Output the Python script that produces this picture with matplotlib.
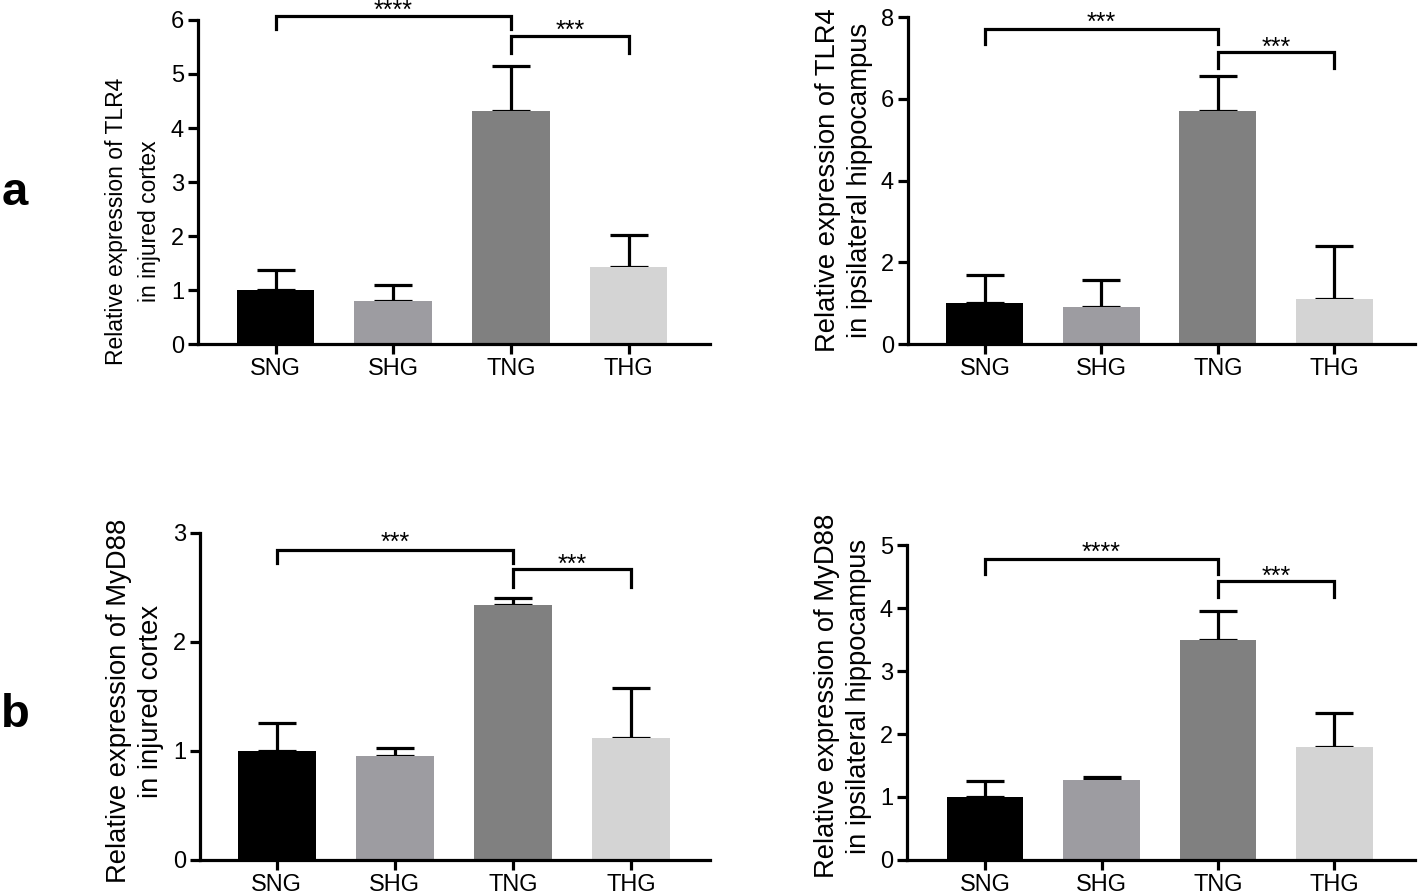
import matplotlib.pyplot as plt
import numpy as np

plt.rcParams['font.family'] = ['Liberation Sans', 'DejaVu Sans']

groups = ['SNG', 'SHG', 'TNG', 'THG']
bar_colors = ['#000000', '#9d9ca1', '#808080', '#d4d4d4']

# means and upper end of the error bar
tlr4_cortex = [1.0, 0.80, 4.32, 1.42]
tlr4_cortex_top = [1.37, 1.10, 5.15, 2.02]
tlr4_hippo = [1.0, 0.90, 5.70, 1.10]
tlr4_hippo_top = [1.68, 1.57, 6.55, 2.40]
myd88_cortex = [1.0, 0.95, 2.34, 1.12]
myd88_cortex_top = [1.26, 1.03, 2.40, 1.58]
myd88_hippo = [1.0, 1.27, 3.50, 1.80]
myd88_hippo_top = [1.25, 1.32, 3.95, 2.34]

# significance brackets: (i, j, bar height, leg bottom, label, label centre)
br_tlr4_cortex = [(0, 2, 6.07, 5.83, '****', 6.16), (2, 3, 5.70, 5.39, '***', 5.79)]
br_tlr4_hippo = [(0, 2, 7.70, 7.34, '***', 7.85), (2, 3, 7.15, 6.75, '***', 7.24)]
br_myd88_cortex = [(0, 2, 2.84, 2.72, '***', 2.905), (2, 3, 2.67, 2.50, '***', 2.705)]
br_myd88_hippo = [(0, 2, 4.78, 4.54, '****', 4.87), (2, 3, 4.43, 4.17, '***', 4.49)]


def draw_panel(ax, means, tops, ymax, ystep, ylabel, brackets, xlim,
               lab_size, lab_spacing, lab_xy):
    x = np.arange(len(groups))
    means = np.array(means)
    up = np.array(tops) - means
    ax.errorbar(x, means, yerr=[np.zeros_like(up), up], fmt='none', ecolor='black',
                elinewidth=2.3, capsize=13.5, capthick=2.3, zorder=1)
    ax.bar(x, means, width=0.66, color=bar_colors, zorder=2)
    ax.set_xlim(*xlim)
    ax.set_ylim(0, ymax)
    ax.set_yticks(np.arange(0, ymax + 0.01, ystep))
    ax.set_xticks(x)
    ax.set_xticklabels(groups)
    for s in ['top', 'right']:
        ax.spines[s].set_visible(False)
    for s in ['left', 'bottom']:
        ax.spines[s].set_linewidth(2.3)
    ax.tick_params(axis='y', length=7, width=2.3, labelsize=17, pad=3)
    ax.tick_params(axis='x', length=7, width=2.3, labelsize=17, pad=3)
    ax.set_ylabel(ylabel, fontsize=lab_size, linespacing=lab_spacing)
    ax.yaxis.set_label_coords(*lab_xy)
    for i, j, h, low, lab, tc in brackets:
        ax.plot([i, i, j, j], [low, h, h, low], color='black', lw=2.3,
                clip_on=False, solid_joinstyle='miter')
        ax.text((i + j) / 2, tc, lab, ha='center', va='center', fontsize=18,
                clip_on=False)


fig = plt.figure(figsize=(14.18, 8.96), dpi=100)

ax1 = fig.add_axes([0.1396, 0.616, 0.361, 0.3617])
draw_panel(ax1, tlr4_cortex, tlr4_cortex_top, 6, 1,
           'Relative expression of TLR4\nin injured cortex', br_tlr4_cortex, (-0.66, 3.69),
           16.5, 1.55, (-0.072, 0.38))

ax2 = fig.add_axes([0.6403, 0.616, 0.3575, 0.365])
draw_panel(ax2, tlr4_hippo, tlr4_hippo_top, 8, 2,
           'Relative expression of TLR4\nin ipsilateral hippocampus', br_tlr4_hippo, (-0.66, 3.69),
           19.7, 1.31, (-0.069, 0.50))

ax3 = fig.add_axes([0.141, 0.0402, 0.3597, 0.365])
draw_panel(ax3, myd88_cortex, myd88_cortex_top, 3, 1,
           'Relative expression of MyD88\nin injured cortex', br_myd88_cortex, (-0.65, 3.67),
           19.7, 1.31, (-0.071, 0.486))

ax4 = fig.add_axes([0.6396, 0.0402, 0.3582, 0.3515])
draw_panel(ax4, myd88_hippo, myd88_hippo_top, 5, 1,
           'Relative expression of MyD88\nin ipsilateral hippocampus', br_myd88_hippo, (-0.67, 3.69),
           19.7, 1.31, (-0.069, 0.52))

fig.text(0.001, 0.771, 'a', fontsize=34, fontweight='bold', va='baseline')
fig.text(0.001, 0.189, 'b', fontsize=34, fontweight='bold', va='baseline')

fig.savefig('out.png', dpi=100)
